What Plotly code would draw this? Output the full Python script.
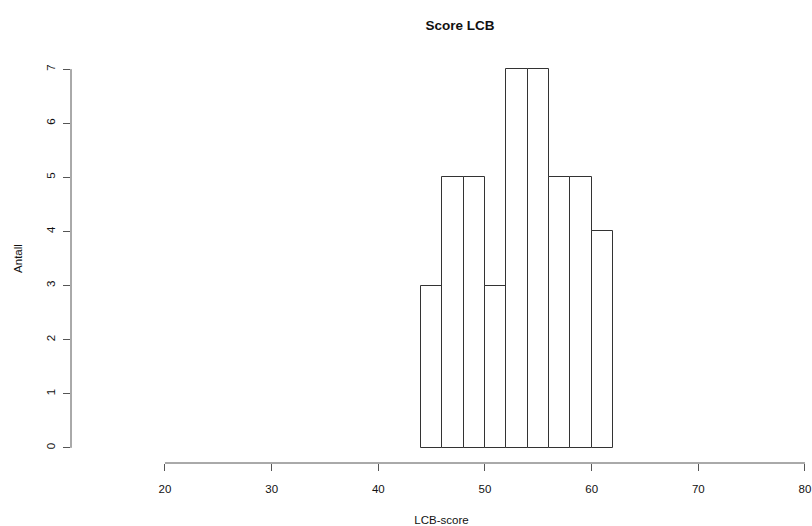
import plotly.graph_objects as go

bin_left = [44, 46, 48, 50, 52, 54, 56, 58, 60]
counts = [3, 5, 5, 3, 7, 7, 5, 5, 4]
bin_width = 2
x_ticks = [20, 30, 40, 50, 60, 70, 80]
y_ticks = [0, 1, 2, 3, 4, 5, 6, 7]

W, H = 812, 526
L, R, T, B = 71, 0, 54, 63

fig = go.Figure()
fig.add_trace(go.Bar(
    x=bin_left, y=counts, width=[bin_width] * len(counts), offset=0,
    marker=dict(color="white", line=dict(color="#333333", width=1)),
    hoverinfo="x+y",
))

font = dict(family="Liberation Sans, Arial, sans-serif", size=11.5, color="#111111")

fig.update_layout(
    width=W, height=H,
    margin=dict(l=L, r=R, t=T, b=B, pad=0, autoexpand=False),
    plot_bgcolor="white", paper_bgcolor="white",
    showlegend=False, bargap=0,
    font=font,
    title=dict(text="<b>Score LCB</b>", x=(460 - L) / (W - L - R), xref="paper",
               xanchor="center", y=1 - 25 / H, yref="container", yanchor="middle",
               automargin=False,
               font=dict(family="Liberation Sans, Arial, sans-serif", size=13.5, color="#111111")),
    xaxis=dict(range=[11.19, 80.66], tickvals=x_ticks, ticktext=[str(v) for v in x_ticks],
               showgrid=False, zeroline=False, showline=False, automargin=False,
               ticks="outside", ticklen=7, tickcolor="#555555", tickwidth=1,
               tickfont=font, ticklabeloverflow="allow", ticklabelstandoff=8,
               title=dict(text="LCB-score", font=font, standoff=22)),
    yaxis=dict(range=[-0.28, 7.28], tickvals=y_ticks, ticktext=[str(v) for v in y_ticks],
               showgrid=False, zeroline=False, showline=False, automargin=False,
               ticks="outside", ticklen=7, tickcolor="#555555", tickwidth=1,
               tickangle=-90, tickfont=font, ticklabelstandoff=3,
               title=dict(text="Antall", font=font, standoff=20)),
)

# R-style axis lines spanning only from first to last tick
fig.add_shape(type="line", xref="x", yref="paper", x0=min(x_ticks), x1=max(x_ticks), y0=0, y1=0,
              line=dict(color="#555555", width=1))
fig.add_shape(type="line", xref="paper", yref="y", x0=0, x1=0, y0=min(y_ticks), y1=max(y_ticks),
              line=dict(color="#555555", width=1))

fig.write_html("out.html", config={"displayModeBar": False},
               post_script="document.body.style.margin='0';document.body.style.overflow='hidden';")
